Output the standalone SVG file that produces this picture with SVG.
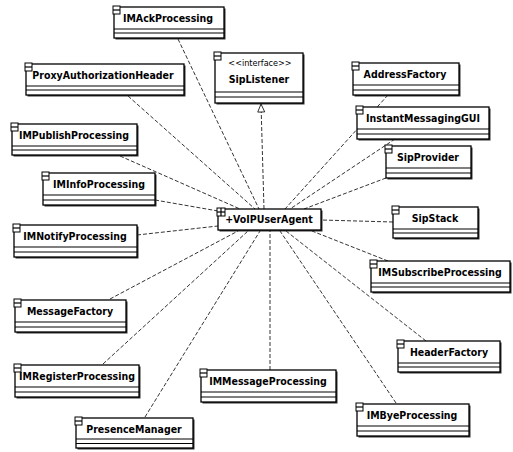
<svg xmlns="http://www.w3.org/2000/svg" width="513" height="452" viewBox="0 0 513 452">
<style>
.box{fill:#fff;stroke:#000;stroke-width:1.3}
.sh{fill:#333}
.div{stroke:#000;stroke-width:1.2}
.ico{fill:#fff;stroke:#000;stroke-width:1}
.lbl{font-family:'DejaVu Sans Condensed','DejaVu Sans',sans-serif;font-weight:bold;font-size:10.5px;fill:#000;text-anchor:middle}
.ster{font-family:'DejaVu Sans Condensed','DejaVu Sans',sans-serif;font-size:9px;fill:#000;text-anchor:middle}
.dep{stroke:#000;stroke-width:0.8;stroke-dasharray:4 2;fill:none}
</style>
<defs>
<marker id="tri" markerWidth="10" markerHeight="10" refX="9" refY="4" orient="auto" markerUnits="userSpaceOnUse">
<path d="M1,0.5 L9,4 L1,7.5 Z" fill="#fff" stroke="#000" stroke-width="0.8"/>
</marker>
</defs>
<rect width="513" height="452" fill="#fff"/>
<g id="connectors">
<line class="dep" x1="178" y1="39" x2="259" y2="209"/>
<line class="dep" x1="128" y1="96" x2="255" y2="209"/>
<line class="dep" x1="120" y1="156" x2="240" y2="209"/>
<line class="dep" x1="155" y1="200" x2="218" y2="211"/>
<line class="dep" x1="137" y1="235" x2="218" y2="226"/>
<line class="dep" x1="110" y1="299" x2="238" y2="231"/>
<line class="dep" x1="103" y1="364" x2="248" y2="231"/>
<line class="dep" x1="145" y1="417" x2="260" y2="231"/>
<line class="dep" x1="270" y1="370" x2="270" y2="231"/>
<line class="dep" x1="396" y1="403" x2="280" y2="231"/>
<line class="dep" x1="426" y1="341" x2="286" y2="231"/>
<line class="dep" x1="388" y1="261" x2="312" y2="231"/>
<line class="dep" x1="393" y1="222" x2="321" y2="220"/>
<line class="dep" x1="386" y1="178" x2="304" y2="209"/>
<line class="dep" x1="395" y1="139" x2="290" y2="209"/>
<line class="dep" x1="388" y1="95" x2="285" y2="209"/>
<line class="dep" x1="264" y1="209" x2="261" y2="104" marker-end="url(#tri)"/>
</g>
<g id="IMAckProcessing">
<rect class="sh" x="115.5" y="8.5" width="110" height="31"/>
<rect class="box" x="114" y="7" width="110" height="31"/>
<line class="div" x1="114" y1="29" x2="224" y2="29"/><line class="div" x1="114" y1="33" x2="224" y2="33"/>
<rect class="ico" x="113" y="6" width="7" height="8"/><line class="div" x1="113" y1="10" x2="120" y2="10"/>
<text class="lbl" x="168" y="22">IMAckProcessing</text>
</g>
<g id="ProxyAuthorizationHeader">
<rect class="sh" x="27.5" y="65.5" width="158" height="31"/>
<rect class="box" x="26" y="64" width="158" height="31"/>
<line class="div" x1="26" y1="86" x2="184" y2="86"/><line class="div" x1="26" y1="90" x2="184" y2="90"/>
<rect class="ico" x="25" y="63" width="7" height="8"/><line class="div" x1="25" y1="67" x2="32" y2="67"/>
<text class="lbl" x="103" y="79">ProxyAuthorizationHeader</text>
</g>
<g id="SipListener">
<rect class="sh" x="216.5" y="54.5" width="88" height="50"/>
<rect class="box" x="215" y="53" width="88" height="50"/>
<line class="div" x1="215" y1="92" x2="303" y2="92"/><line class="div" x1="215" y1="97" x2="303" y2="97"/>
<rect class="ico" x="214" y="52" width="7" height="8"/><line class="div" x1="214" y1="56" x2="221" y2="56"/>
<text class="ster" x="260" y="66">&lt;&lt;interface&gt;&gt;</text>
<text class="lbl" x="259" y="83">SipListener</text>
</g>
<g id="AddressFactory">
<rect class="sh" x="354.5" y="64.5" width="106" height="32"/>
<rect class="box" x="353" y="63" width="106" height="32"/>
<line class="div" x1="353" y1="85" x2="459" y2="85"/><line class="div" x1="353" y1="90" x2="459" y2="90"/>
<rect class="ico" x="352" y="62" width="7" height="8"/><line class="div" x1="352" y1="66" x2="359" y2="66"/>
<text class="lbl" x="405" y="78">AddressFactory</text>
</g>
<g id="InstantMessagingGUI">
<rect class="sh" x="358.5" y="108.5" width="132" height="32"/>
<rect class="box" x="357" y="107" width="132" height="32"/>
<line class="div" x1="357" y1="129" x2="489" y2="129"/><line class="div" x1="357" y1="134" x2="489" y2="134"/>
<rect class="ico" x="356" y="106" width="7" height="8"/><line class="div" x1="356" y1="110" x2="363" y2="110"/>
<text class="lbl" x="423" y="122">InstantMessagingGUI</text>
</g>
<g id="IMPublishProcessing">
<rect class="sh" x="13.5" y="125.5" width="125" height="31"/>
<rect class="box" x="12" y="124" width="125" height="31"/>
<line class="div" x1="12" y1="146" x2="137" y2="146"/><line class="div" x1="12" y1="150" x2="137" y2="150"/>
<rect class="ico" x="11" y="123" width="7" height="8"/><line class="div" x1="11" y1="127" x2="18" y2="127"/>
<text class="lbl" x="74" y="139">IMPublishProcessing</text>
</g>
<g id="IMInfoProcessing">
<rect class="sh" x="44.5" y="174.5" width="112" height="32"/>
<rect class="box" x="43" y="173" width="112" height="32"/>
<line class="div" x1="43" y1="195" x2="155" y2="195"/><line class="div" x1="43" y1="200" x2="155" y2="200"/>
<rect class="ico" x="42" y="172" width="7" height="8"/><line class="div" x1="42" y1="176" x2="49" y2="176"/>
<text class="lbl" x="99" y="188">IMInfoProcessing</text>
</g>
<g id="SipProvider">
<rect class="sh" x="387.5" y="147.5" width="85" height="32"/>
<rect class="box" x="386" y="146" width="85" height="32"/>
<line class="div" x1="386" y1="168" x2="471" y2="168"/><line class="div" x1="386" y1="173" x2="471" y2="173"/>
<rect class="ico" x="385" y="145" width="7" height="8"/><line class="div" x1="385" y1="149" x2="392" y2="149"/>
<text class="lbl" x="428" y="161">SipProvider</text>
</g>
<g id="VoIPUserAgent">
<rect class="sh" x="219.5" y="210.5" width="103" height="21"/>
<rect class="box" x="218" y="209" width="103" height="21"/>
<rect class="ico" x="217" y="208" width="8" height="8"/>
<line class="div" x1="217" y1="212" x2="225" y2="212"/><line class="div" x1="221" y1="208" x2="221" y2="216"/>
<text class="lbl" x="269" y="223">+VoIPUserAgent</text>
</g>
<g id="SipStack">
<rect class="sh" x="394.5" y="208.5" width="85" height="31"/>
<rect class="box" x="393" y="207" width="85" height="31"/>
<line class="div" x1="393" y1="229" x2="478" y2="229"/><line class="div" x1="393" y1="233" x2="478" y2="233"/>
<rect class="ico" x="392" y="206" width="7" height="8"/><line class="div" x1="392" y1="210" x2="399" y2="210"/>
<text class="lbl" x="435" y="222">SipStack</text>
</g>
<g id="IMNotifyProcessing">
<rect class="sh" x="15.5" y="226.5" width="123" height="32"/>
<rect class="box" x="14" y="225" width="123" height="32"/>
<line class="div" x1="14" y1="247" x2="137" y2="247"/><line class="div" x1="14" y1="252" x2="137" y2="252"/>
<rect class="ico" x="13" y="224" width="7" height="8"/><line class="div" x1="13" y1="228" x2="20" y2="228"/>
<text class="lbl" x="75" y="240">IMNotifyProcessing</text>
</g>
<g id="IMSubscribeProcessing">
<rect class="sh" x="372.5" y="262.5" width="139" height="31"/>
<rect class="box" x="371" y="261" width="139" height="31"/>
<line class="div" x1="371" y1="283" x2="510" y2="283"/><line class="div" x1="371" y1="287" x2="510" y2="287"/>
<rect class="ico" x="370" y="260" width="7" height="8"/><line class="div" x1="370" y1="264" x2="377" y2="264"/>
<text class="lbl" x="440" y="276">IMSubscribeProcessing</text>
</g>
<g id="MessageFactory">
<rect class="sh" x="16.5" y="301.5" width="111" height="32"/>
<rect class="box" x="15" y="300" width="111" height="32"/>
<line class="div" x1="15" y1="322" x2="126" y2="322"/><line class="div" x1="15" y1="327" x2="126" y2="327"/>
<rect class="ico" x="14" y="299" width="7" height="8"/><line class="div" x1="14" y1="303" x2="21" y2="303"/>
<text class="lbl" x="70" y="315">MessageFactory</text>
</g>
<g id="HeaderFactory">
<rect class="sh" x="399.5" y="342.5" width="102" height="31"/>
<rect class="box" x="398" y="341" width="102" height="31"/>
<line class="div" x1="398" y1="363" x2="500" y2="363"/><line class="div" x1="398" y1="367" x2="500" y2="367"/>
<rect class="ico" x="397" y="340" width="7" height="8"/><line class="div" x1="397" y1="344" x2="404" y2="344"/>
<text class="lbl" x="449" y="356">HeaderFactory</text>
</g>
<g id="IMRegisterProcessing">
<rect class="sh" x="16.5" y="366.5" width="124" height="32"/>
<rect class="box" x="15" y="365" width="124" height="32"/>
<line class="div" x1="15" y1="387" x2="139" y2="387"/><line class="div" x1="15" y1="392" x2="139" y2="392"/>
<rect class="ico" x="14" y="364" width="7" height="8"/><line class="div" x1="14" y1="368" x2="21" y2="368"/>
<text class="lbl" x="77" y="380">IMRegisterProcessing</text>
</g>
<g id="IMMessageProcessing">
<rect class="sh" x="202.5" y="371.5" width="135" height="32"/>
<rect class="box" x="201" y="370" width="135" height="32"/>
<line class="div" x1="201" y1="392" x2="336" y2="392"/><line class="div" x1="201" y1="397" x2="336" y2="397"/>
<rect class="ico" x="200" y="369" width="7" height="8"/><line class="div" x1="200" y1="373" x2="207" y2="373"/>
<text class="lbl" x="268" y="385">IMMessageProcessing</text>
</g>
<g id="IMByeProcessing">
<rect class="sh" x="358.5" y="405.5" width="112" height="32"/>
<rect class="box" x="357" y="404" width="112" height="32"/>
<line class="div" x1="357" y1="426" x2="469" y2="426"/><line class="div" x1="357" y1="431" x2="469" y2="431"/>
<rect class="ico" x="356" y="403" width="7" height="8"/><line class="div" x1="356" y1="407" x2="363" y2="407"/>
<text class="lbl" x="412" y="419">IMByeProcessing</text>
</g>
<g id="PresenceManager">
<rect class="sh" x="77.5" y="419.5" width="117" height="30"/>
<rect class="box" x="76" y="418" width="117" height="30"/>
<line class="div" x1="76" y1="439" x2="193" y2="439"/><line class="div" x1="76" y1="443.5" x2="193" y2="443.5"/>
<rect class="ico" x="75" y="417" width="7" height="8"/><line class="div" x1="75" y1="421" x2="82" y2="421"/>
<text class="lbl" x="134" y="433">PresenceManager</text>
</g>
</svg>
